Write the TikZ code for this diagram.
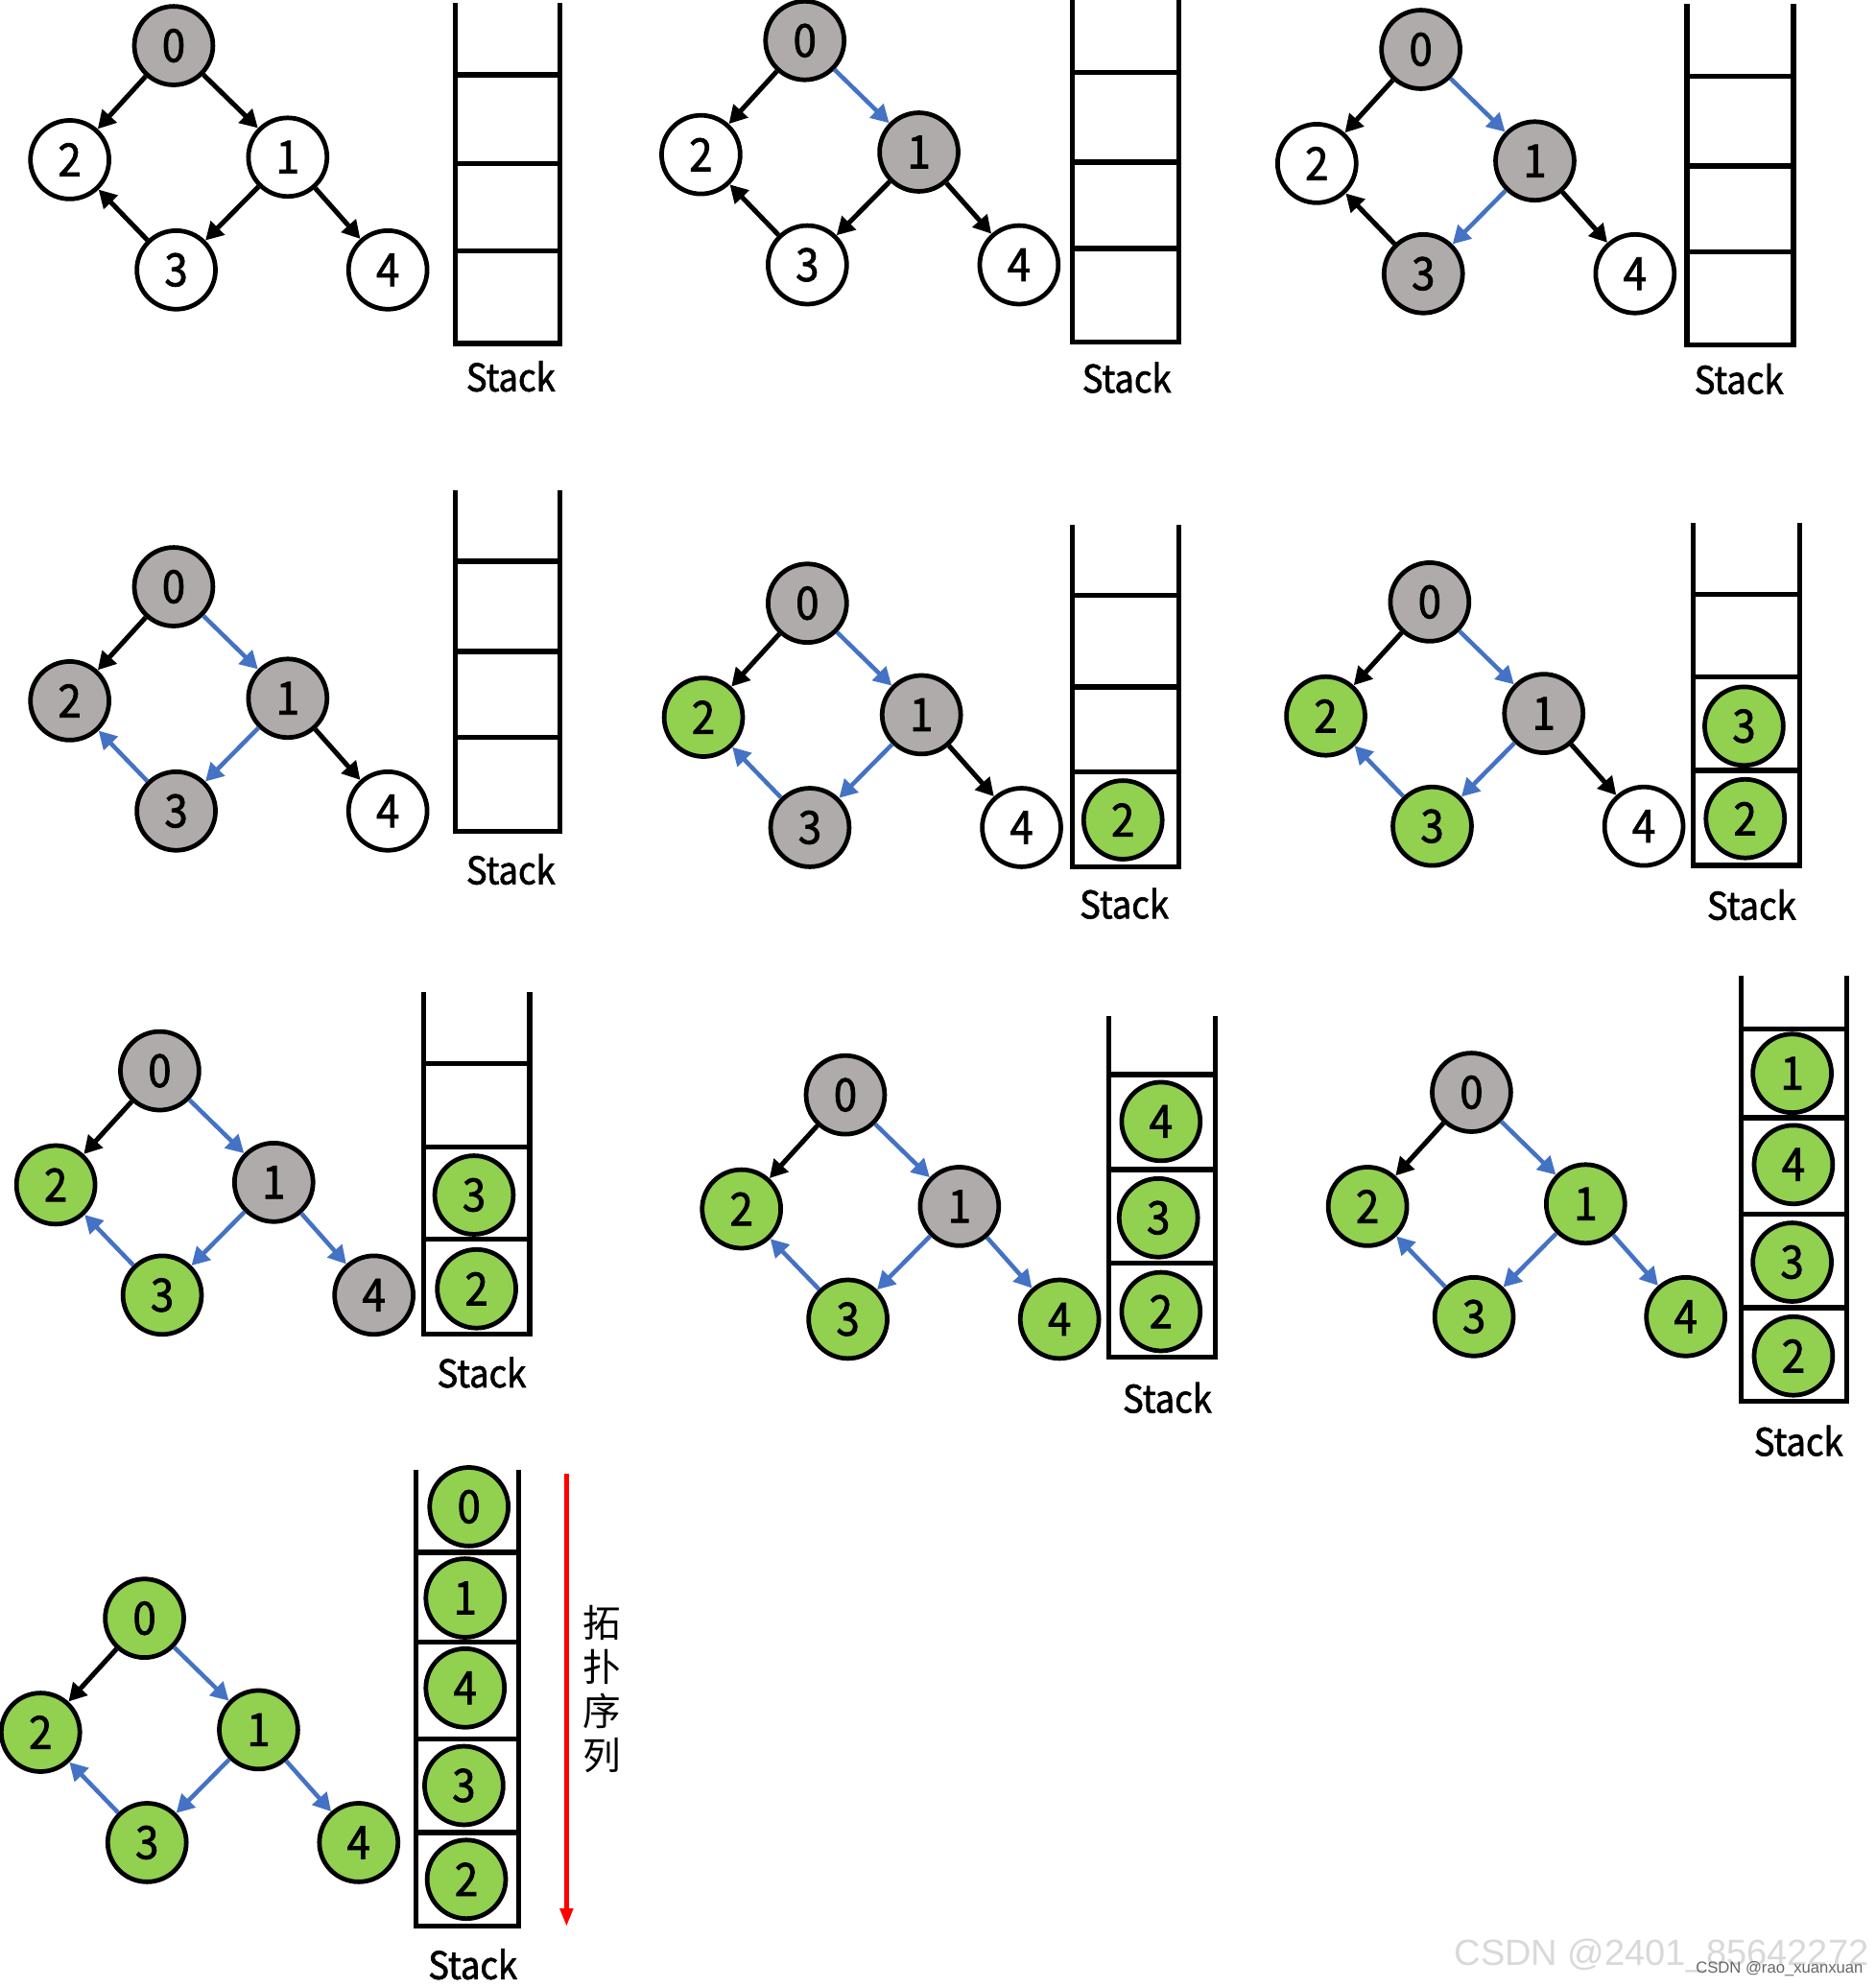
\documentclass[tikz,border=0pt]{standalone}
\usepackage{fontspec}
\setmainfont{Noto Sans CJK SC}
\newfontfamily\numfont{Noto Sans CJK SC}[FakeBold=1.6, FakeStretch=0.92]
\newfontfamily\markfont{Liberation Sans}
\usetikzlibrary{arrows.meta}

\definecolor{nodegray}{RGB}{175,171,171}
\definecolor{nodegreen}{RGB}{146,208,80}
\definecolor{edgeblue}{RGB}{68,114,196}

\begin{document}
\begin{tikzpicture}[x=0.5pt, y=-0.5pt,
  vert/.style={circle, draw, line width=1.8pt, minimum size=31pt, inner sep=0pt,
               font=\numfont\fontsize{18}{18}\selectfont},
  fresh/.style={vert, fill=white},
  active/.style={vert, fill=nodegray},
  finished/.style={vert, fill=nodegreen},
  link/.style={line width=1.9pt, -{Triangle[length=7pt, width=7.5pt]}},
  tlink/.style={link, line width=1.7pt, edgeblue},
  wall/.style={line width=2pt},
  lbl/.style={font=\numfont\fontsize{15}{15}\selectfont}]
  \useasboundingbox (0,0) rectangle (1480,1568);

  % step 1: visit 0
  \begin{scope}[shift={(137,36)}]
    \node[active] (a0) at (0,0)     {0};
    \node[fresh]  (a2) at (-82,90)  {2};
    \node[fresh]  (a1) at (90,88)   {1};
    \node[fresh]  (a3) at (2,177)   {3};
    \node[fresh]  (a4) at (169,177) {4};
  \end{scope}
  \draw[link] (a0) -- (a2);
  \draw[link] (a0) -- (a1);
  \draw[link] (a1) -- (a3);
  \draw[link] (a3) -- (a2);
  \draw[link] (a1) -- (a4);
  \draw[wall] (359,2) -- (359,271) -- (442,271) -- (442,2)
    (359,59) -- (442,59) (359,129) -- (442,129) (359,198) -- (442,198);
  \node[lbl] (sa) at (403,297) {Stack};

  % step 2: visit 1
  \begin{scope}[shift={(635,32)}]
    \node[active] (b0) at (0,0)     {0};
    \node[fresh]  (b2) at (-82,90)  {2};
    \node[active] (b1) at (90,88)   {1};
    \node[fresh]  (b3) at (2,177)   {3};
    \node[fresh]  (b4) at (169,177) {4};
  \end{scope}
  \draw[link]  (b0) -- (b2);
  \draw[tlink] (b0) -- (b1);
  \draw[link]  (b1) -- (b3);
  \draw[link]  (b3) -- (b2);
  \draw[link]  (b1) -- (b4);
  \draw[wall] (846,0) -- (846,270) -- (930,270) -- (930,0)
    (846,57) -- (930,57) (846,128) -- (930,128) (846,196) -- (930,196);
  \node[lbl] (sb) at (889,298) {Stack};

  % step 3: visit 3
  \begin{scope}[shift={(1121,39)}]
    \node[active] (c0) at (0,0)     {0};
    \node[fresh]  (c2) at (-82,90)  {2};
    \node[active] (c1) at (90,88)   {1};
    \node[active] (c3) at (2,177)   {3};
    \node[fresh]  (c4) at (169,177) {4};
  \end{scope}
  \draw[link]  (c0) -- (c2);
  \draw[tlink] (c0) -- (c1);
  \draw[tlink] (c1) -- (c3);
  \draw[link]  (c3) -- (c2);
  \draw[link]  (c1) -- (c4);
  \draw[wall] (1331,3) -- (1331,272) -- (1415,272) -- (1415,3)
    (1331,60) -- (1415,60) (1331,131) -- (1415,131) (1331,199) -- (1415,199);
  \node[lbl] (sc) at (1372,299) {Stack};

  % step 4: visit 2
  \begin{scope}[shift={(137,463)}]
    \node[active] (d0) at (0,0)     {0};
    \node[active] (d2) at (-82,90)  {2};
    \node[active] (d1) at (90,88)   {1};
    \node[active] (d3) at (2,177)   {3};
    \node[fresh]  (d4) at (169,177) {4};
  \end{scope}
  \draw[link]  (d0) -- (d2);
  \draw[tlink] (d0) -- (d1);
  \draw[tlink] (d1) -- (d3);
  \draw[tlink] (d3) -- (d2);
  \draw[link]  (d1) -- (d4);
  \draw[wall] (359,387) -- (359,656) -- (442,656) -- (442,387)
    (359,443) -- (442,443) (359,514) -- (442,514) (359,582) -- (442,582);
  \node[lbl] (sd) at (403,686) {Stack};

  % step 5: 2 done, push
  \begin{scope}[shift={(637,476)}]
    \node[active]   (e0) at (0,0)     {0};
    \node[finished] (e2) at (-82,90)  {2};
    \node[active]   (e1) at (90,88)   {1};
    \node[active]   (e3) at (2,177)   {3};
    \node[fresh]    (e4) at (169,177) {4};
  \end{scope}
  \draw[link]  (e0) -- (e2);
  \draw[tlink] (e0) -- (e1);
  \draw[tlink] (e1) -- (e3);
  \draw[tlink] (e3) -- (e2);
  \draw[link]  (e1) -- (e4);
  \draw[wall] (846,414) -- (846,684) -- (930,684) -- (930,414)
    (846,470) -- (930,470) (846,542) -- (930,542) (846,609) -- (930,609);
  \node[finished] (es2) at (886,647) {2};
  \node[lbl] (se) at (887,713) {Stack};

  % step 6: 3 done, push
  \begin{scope}[shift={(1128,475)}]
    \node[active]   (f0) at (0,0)     {0};
    \node[finished] (f2) at (-82,90)  {2};
    \node[active]   (f1) at (90,88)   {1};
    \node[finished] (f3) at (2,177)   {3};
    \node[fresh]    (f4) at (169,177) {4};
  \end{scope}
  \draw[link]  (f0) -- (f2);
  \draw[tlink] (f0) -- (f1);
  \draw[tlink] (f1) -- (f3);
  \draw[tlink] (f3) -- (f2);
  \draw[link]  (f1) -- (f4);
  \draw[wall] (1336,413) -- (1336,683) -- (1420,683) -- (1420,413)
    (1336,469) -- (1420,469) (1336,534) -- (1420,534) (1336,608) -- (1420,608);
  \node[finished] (fs3) at (1376,573) {3};
  \node[finished] (fs2) at (1377,646) {2};
  \node[lbl] (sf) at (1382,714) {Stack};

  % step 7: visit 4
  \begin{scope}[shift={(126,845)}]
    \node[active]   (g0) at (0,0)     {0};
    \node[finished] (g2) at (-82,90)  {2};
    \node[active]   (g1) at (90,88)   {1};
    \node[finished] (g3) at (2,177)   {3};
    \node[active]   (g4) at (169,177) {4};
  \end{scope}
  \draw[link]  (g0) -- (g2);
  \draw[tlink] (g0) -- (g1);
  \draw[tlink] (g1) -- (g3);
  \draw[tlink] (g3) -- (g2);
  \draw[tlink] (g1) -- (g4);
  \draw[wall] (334,783) -- (334,1053) -- (418,1053) -- (418,783)
    (334,839) -- (418,839) (334,905) -- (418,905) (334,978) -- (418,978);
  \node[finished] (gs3) at (374,943)  {3};
  \node[finished] (gs2) at (376,1017) {2};
  \node[lbl] (sg) at (380,1083) {Stack};

  % step 8: 4 done, push
  \begin{scope}[shift={(667,864)}]
    \node[active]   (h0) at (0,0)     {0};
    \node[finished] (h2) at (-82,90)  {2};
    \node[active]   (h1) at (90,88)   {1};
    \node[finished] (h3) at (2,177)   {3};
    \node[finished] (h4) at (169,177) {4};
  \end{scope}
  \draw[link]  (h0) -- (h2);
  \draw[tlink] (h0) -- (h1);
  \draw[tlink] (h1) -- (h3);
  \draw[tlink] (h3) -- (h2);
  \draw[tlink] (h1) -- (h4);
  \draw[wall] (875,802) -- (875,1071) -- (959,1071) -- (959,802)
    (875,848) -- (959,848) (875,923) -- (959,923) (875,997) -- (959,997);
  \node[finished] (hs4) at (916,885)  {4};
  \node[finished] (hs3) at (914,961)  {3};
  \node[finished] (hs2) at (916,1035) {2};
  \node[lbl] (sh) at (921,1103) {Stack};

  % step 9: 1 done, push
  \begin{scope}[shift={(1161,862)}]
    \node[active]   (i0) at (0,0)     {0};
    \node[finished] (i2) at (-82,90)  {2};
    \node[finished] (i1) at (90,88)   {1};
    \node[finished] (i3) at (2,177)   {3};
    \node[finished] (i4) at (169,177) {4};
  \end{scope}
  \draw[link]  (i0) -- (i2);
  \draw[tlink] (i0) -- (i1);
  \draw[tlink] (i1) -- (i3);
  \draw[tlink] (i3) -- (i2);
  \draw[tlink] (i1) -- (i4);
  \draw[wall] (1374,770) -- (1374,1106) -- (1457,1106) -- (1457,770)
    (1374,812) -- (1457,812) (1374,882) -- (1457,882) (1374,958) -- (1457,958)
    (1374,1032) -- (1457,1032);
  \node[finished] (is1) at (1414,847)  {1};
  \node[finished] (is4) at (1415,919)  {4};
  \node[finished] (is3) at (1414,996)  {3};
  \node[finished] (is2) at (1415,1070) {2};
  \node[lbl] (si) at (1419,1137) {Stack};

  % step 10: 0 done, stack gives the order
  \begin{scope}[shift={(114,1277)}]
    \node[finished] (j0) at (0,0)     {0};
    \node[finished] (j2) at (-82,90)  {2};
    \node[finished] (j1) at (90,88)   {1};
    \node[finished] (j3) at (2,177)   {3};
    \node[finished] (j4) at (169,177) {4};
  \end{scope}
  \draw[link]  (j0) -- (j2);
  \draw[tlink] (j0) -- (j1);
  \draw[tlink] (j1) -- (j3);
  \draw[tlink] (j3) -- (j2);
  \draw[tlink] (j1) -- (j4);
  \draw[wall] (328,1160) -- (328,1520) -- (409,1520) -- (409,1160)
    (328,1225) -- (409,1225) (328,1296) -- (409,1296) (328,1372) -- (409,1372)
    (328,1446) -- (409,1446);
  \node[finished] (js0) at (370,1189) {0};
  \node[finished] (js1) at (367,1261) {1};
  \node[finished] (js4) at (367,1332) {4};
  \node[finished] (js3) at (366,1409) {3};
  \node[finished] (js2) at (368,1483) {2};
  \node[lbl] (sj) at (373,1550) {Stack};

  % reading direction
  \coordinate (top) at (447,1163);
  \coordinate (bot) at (447,1520);
  \draw[red, line width=1.6pt, -{Triangle[length=7pt, width=5pt]}] (top) -- (bot);
  \node[align=center, font=\fontsize{15}{17.5}\selectfont] (seq) at (475,1333)
    {拓\\扑\\序\\列};

  % watermark
  \node[font=\markfont\fontsize{14.4}{14.4}\selectfont, text=black!15] (wm) at (1311,1543)
    {CSDN @2401\_85642272};
  \node[font=\markfont\fontsize{6.3}{6.3}\selectfont, text=black!60] (wm2) at (1404,1554)
    {CSDN @rao\_xuanxuan};
\end{tikzpicture}
\end{document}
